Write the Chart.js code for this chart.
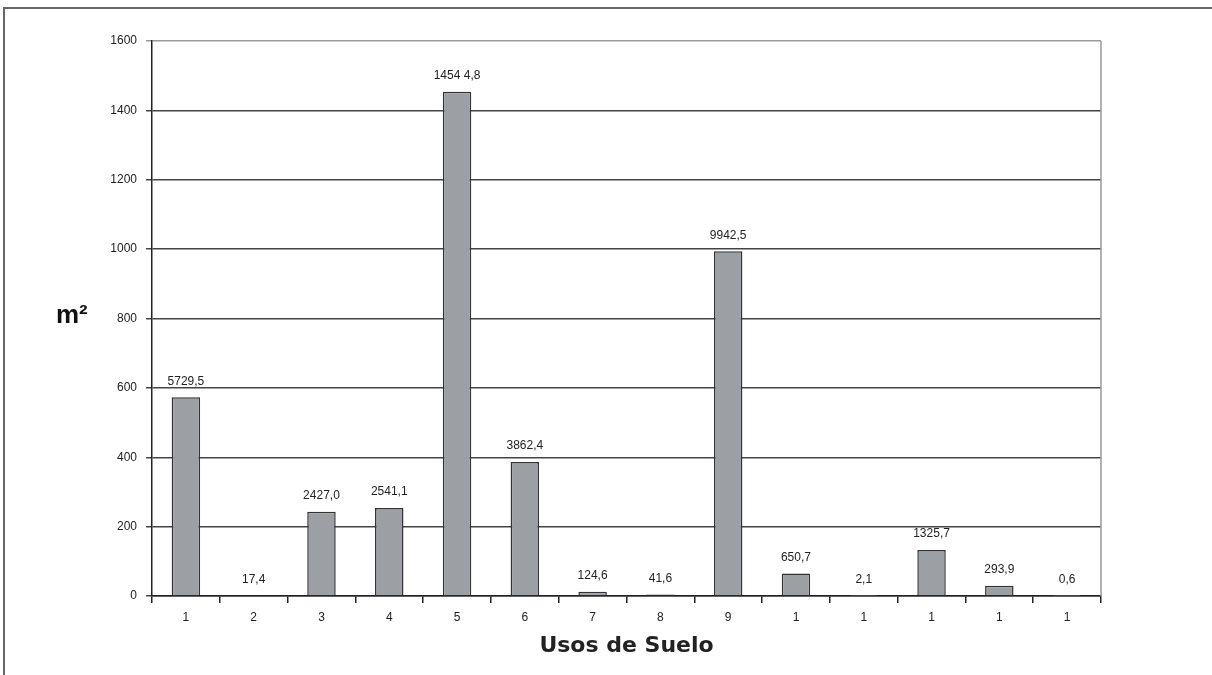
<!DOCTYPE html>
<html>
<head>
<meta charset="utf-8">
<script src="https://cdn.jsdelivr.net/npm/chart.js@4/dist/chart.umd.min.js"></script>
<style>
  html, body { margin: 0; padding: 0; background: #fff; }
  #wrap { width: 1212px; height: 675px; position: relative; }
</style>
</head>
<body>
<div id="wrap"><canvas id="usosChart" width="1212" height="675"></canvas></div>
<script>
// categories (as printed on the axis, truncated after 9)
const categories = ["1", "2", "3", "4", "5", "6", "7", "8", "9", "1", "1", "1", "1", "1"];
// bar heights
const barValues = [573, 1.7, 243, 254, 1454, 386, 12.5, 4.2, 994, 65, 0.2, 132.6, 29.4, 0.06];
// value labels printed above each bar
const valueLabels = ["5729,5", "17,4", "2427,0", "2541,1", "1454 4,8", "3862,4", "124,6", "41,6",
                     "9942,5", "650,7", "2,1", "1325,7", "293,9", "0,6"];
const yTicks = [0, 200, 400, 600, 800, 1000, 1200, 1400, 1600];

// value labels + extra decorations
const extras = {
  id: "extras",
  beforeDraw(chart) {
    const c = chart.ctx;
    c.save();
    c.strokeStyle = "#666";
    c.lineWidth = 2;
    c.beginPath();
    c.moveTo(4, 675);
    c.lineTo(4, 8);
    c.lineTo(1212, 8);
    c.stroke();
    c.restore();
  },
  afterDatasetsDraw(chart) {
    const c = chart.ctx;
    const meta = chart.getDatasetMeta(0);
    const area = chart.chartArea;
    c.save();
    // right border of plot area
    c.strokeStyle = "#999";
    c.lineWidth = 1.5;
    c.beginPath();
    c.moveTo(area.right, area.top);
    c.lineTo(area.right, area.bottom);
    c.stroke();

    c.fillStyle = "#222";
    c.font = "12px 'Liberation Sans', Arial, sans-serif";
    c.textAlign = "center";
    c.textBaseline = "middle";
    meta.data.forEach((bar, i) => {
      c.fillText(valueLabels[i], bar.x, bar.y - 16);
    });

    // y axis title
    c.fillStyle = "#111";
    c.font = "bold 26px 'Liberation Sans', Arial, sans-serif";
    c.textAlign = "left";
    c.fillText("m²", 56, 316);
    c.restore();
  }
};

new Chart(document.getElementById("usosChart"), {
  type: "bar",
  data: {
    labels: categories,
    datasets: [{
      data: barValues,
      backgroundColor: "#9c9fa3",
      borderColor: "#333",
      borderWidth: 1.5,
      barPercentage: 0.42,
      categoryPercentage: 1
    }]
  },
  options: {
    responsive: false,
    animation: false,
    layout: { padding: { left: 0, right: 111, top: 41, bottom: 0 } },
    plugins: {
      legend: { display: false },
      tooltip: { enabled: false }
    },
    scales: {
      y: {
        min: 0,
        max: 1600,
        afterFit: s => { s.width = 152; },
        afterBuildTicks: s => { s.ticks = yTicks.map(v => ({ value: v })); },
        border: { color: "#222", width: 1.5 },
        grid: {
          color: ctx => (ctx.tick && ctx.tick.value === 1600 ? "#999" : "#444"),
          lineWidth: 1.5,
          tickLength: 6
        },
        ticks: {
          color: "#222",
          padding: 9,
          callback: v => String(v),
          font: { family: "'Liberation Sans', Arial, sans-serif", size: 12 }
        }
      },
      x: {
        afterFit: s => { s.height = 79; },
        border: { color: "#222", width: 1.5 },
        grid: {
          drawOnChartArea: false,
          offset: true,
          color: "#222",
          lineWidth: 1.5,
          tickLength: 7
        },
        ticks: {
          color: "#222",
          padding: 7,
          font: { family: "'Liberation Sans', Arial, sans-serif", size: 12 }
        },
        title: {
          display: true,
          text: "Usos de Suelo",
          color: "#222",
          font: { family: "'DejaVu Sans', sans-serif", size: 22, weight: "bold" },
          padding: { top: 0, bottom: 16 }
        }
      }
    }
  },
  plugins: [extras]
});
</script>
</body>
</html>
